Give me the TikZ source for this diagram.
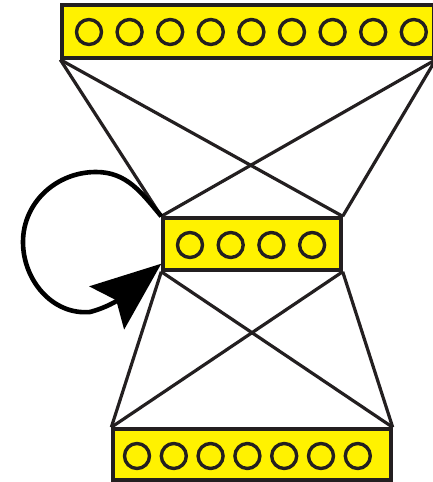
\documentclass[tikz,border=0pt]{standalone}
\usepackage{tikz}
\usetikzlibrary{arrows.meta, positioning}
\usepackage{xcolor}
\definecolor{amarelo}{RGB}{255, 242, 0}
\definecolor{traco}{RGB}{35, 31, 32}

\begin{document}
\begin{tikzpicture}[
                x=1pt, y=1pt,
                layer/.style={draw=traco, line width=3.4pt, fill=amarelo, inner sep=0pt},
                unit/.style={circle, draw=traco, line width=3.4pt, minimum size=25pt, inner sep=0pt},
                link/.style={draw=traco, line width=3.2pt},
                loopback/.style={line width=4.6pt, -{Stealth[length=70pt, width=55pt, inset=12pt]}}
            ]
                \useasboundingbox (0,0) rectangle (432,482);

                \node[layer, minimum width=372pt, minimum height=53pt] (inp) at (248,450.5) {};
                \node[layer, minimum width=178pt, minimum height=52pt] (hid) at (252,238) {};
                \node[layer, minimum width=278pt, minimum height=51pt] (out) at (252,27.5) {};

                \foreach \i in {0,...,8}
                    \node[unit] (inp\i) at ({89+40.6*\i},450) {};
                \foreach \i in {0,...,3}
                    \node[unit] (hid\i) at ({190+40.7*\i},237) {};
                \foreach \i in {0,...,6}
                    \node[unit] (out\i) at ({137+36.8*\i},26) {};

                \draw[link] (inp.south west) -- (hid.north west);
                \draw[link] (inp.south west) -- (hid.north east);
                \draw[link] (inp.south east) -- (hid.north west);
                \draw[link] (inp.south east) -- (hid.north east);
                \draw[link] (hid.south west) -- (out.north west);
                \draw[link] (hid.south west) -- (out.north east);
                \draw[link] (hid.south east) -- (out.north west);
                \draw[link] (hid.south east) -- (out.north east);

                \draw[loopback] (hid.north west) to[out=130, in=0] (96,310)
                    to[out=180, in=90] (23,240)
                    to[out=-90, in=185] (90,170)
                    to[out=15, in=219] ([yshift=8pt]hid.south west);
            \end{tikzpicture}
\end{document}
